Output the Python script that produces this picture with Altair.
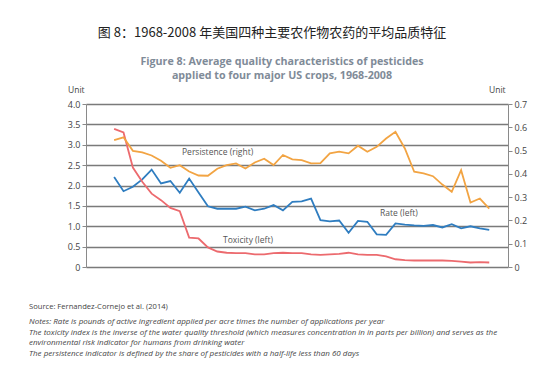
import altair as alt
import pandas as pd

years = list(range(1968, 2009))
rate = [2.21, 1.86, 1.97, 2.15, 2.39, 2.05, 2.11, 1.82, 2.17, 1.83,
        1.49, 1.43, 1.43, 1.43, 1.48, 1.39, 1.43, 1.52, 1.39, 1.60,
        1.61, 1.68, 1.15, 1.12, 1.14, 0.84, 1.13, 1.11, 0.80, 0.79,
        1.07, 1.04, 1.02, 1.01, 1.03, 0.97, 1.05, 0.95, 1.00, 0.95, 0.91]
toxicity = [3.39, 3.30, 2.44, 2.09, 1.80, 1.64, 1.45, 1.37, 0.72, 0.70,
            0.48, 0.38, 0.35, 0.34, 0.34, 0.31, 0.31, 0.34, 0.35, 0.34,
            0.34, 0.31, 0.30, 0.31, 0.32, 0.35, 0.31, 0.30, 0.30, 0.26,
            0.19, 0.17, 0.16, 0.16, 0.16, 0.16, 0.15, 0.13, 0.11, 0.12, 0.11]
persistence = [0.545, 0.557, 0.499, 0.492, 0.479, 0.456, 0.426, 0.437, 0.410, 0.393,
               0.392, 0.422, 0.437, 0.445, 0.423, 0.449, 0.465, 0.438, 0.481, 0.462,
               0.459, 0.445, 0.446, 0.488, 0.495, 0.488, 0.521, 0.495, 0.516, 0.552,
               0.581, 0.509, 0.409, 0.402, 0.390, 0.354, 0.323, 0.416, 0.277, 0.294, 0.251]

left_ticks = [0, 0.5, 1.0, 1.5, 2.0, 2.5, 3.0, 3.5, 4.0]
right_ticks = [0, 0.1, 0.2, 0.3, 0.4, 0.5, 0.6, 0.7]
x_ticks = [1965, 1970, 1975, 1980, 1985, 1990, 1995, 2000, 2005, 2010]

left_df = pd.DataFrame({
    "year": years * 2,
    "value": rate + toxicity,
    "series": ["Rate"] * len(years) + ["Toxicity"] * len(years),
})
right_df = pd.DataFrame({"year": years, "value": persistence})

W, H = 422, 163
FONT = "Open Sans"
AX = "#8a8a8a"

xenc = alt.X("year:Q",
             scale=alt.Scale(domain=[1965, 2010], nice=False, zero=False),
             axis=alt.Axis(values=x_ticks, format="d", title=None, grid=False,
                           labelFont=FONT, labelFontSize=9, labelColor="#444",
                           domainColor=AX, tickColor=AX, tickSize=4, labelPadding=3))

left = alt.Chart(left_df).mark_line(strokeWidth=1.8).encode(
    x=xenc,
    y=alt.Y("value:Q", scale=alt.Scale(domain=[0, 4], nice=False),
            axis=alt.Axis(values=left_ticks, title=None, orient="left",
                          grid=True, gridColor="#7a7a7a", gridWidth=1.5,
                          labelFont=FONT, labelFontSize=9, labelColor="#444",
                          labelExpr="datum.value == 0 ? '0' : format(datum.value, '.1f')",
                          domainColor=AX, tickColor=AX, tickSize=4)),
    color=alt.Color("series:N",
                    scale=alt.Scale(domain=["Rate", "Toxicity"], range=["#2f7dc0", "#ec6a6e"]),
                    legend=None),
)

right = alt.Chart(right_df).mark_line(strokeWidth=1.8, color="#f2a443").encode(
    x=alt.X("year:Q", scale=alt.Scale(domain=[1965, 2010], nice=False, zero=False), axis=None),
    y=alt.Y("value:Q", scale=alt.Scale(domain=[0, 0.7], nice=False),
            axis=alt.Axis(values=right_ticks, title=None, orient="right", grid=False,
                          labelFont=FONT, labelFontSize=9, labelColor="#444",
                          labelExpr="datum.value == 0 ? '0' : format(datum.value, '.1f')",
                          domainColor=AX, tickColor=AX, tickSize=4)),
)

def txt(s, x, y, size=9, color="#555", weight="normal", style="normal", font=FONT, align="left"):
    return alt.Chart(pd.DataFrame({"t": [s]})).mark_text(
        font=font, fontSize=size, color=color, fontWeight=weight, fontStyle=style,
        align=align, baseline="middle",
    ).encode(x=alt.value(x), y=alt.value(y), text="t:N")

ox, oy = 86, 104
NS = 8.0
annotations = [
    txt("图 8：1968-2008 年美国四种主要农作物农药的平均品质特征", 272 - ox, 33 - oy, size=13,
        color="#222", font="Noto Sans CJK SC", align="center"),
    txt("Figure 8: Average quality characteristics of pesticides", 282 - ox, 62 - oy, size=10.7,
        color="#7f8b98", weight="bold", align="center"),
    txt("applied to four major US crops, 1968-2008", 282 - ox, 76 - oy, size=10.7,
        color="#7f8b98", weight="bold", align="center"),
    txt("Unit", 68 - ox, 90 - oy, size=8.5, color="#444"),
    txt("Unit", 489 - ox, 90 - oy, size=8.5, color="#444"),
    txt("Persistence (right)", 182 - ox, 152 - oy, size=8.5, color="#555"),
    txt("Toxicity (left)", 223 - ox, 240 - oy, size=8.5, color="#555"),
    txt("Rate (left)", 380 - ox, 213 - oy, size=8.5, color="#555"),
    txt("Source: Fernandez-Cornejo et al. (2014)", 29 - ox, 307 - oy, size=7.6, color="#444"),
    txt("Notes: Rate is pounds of active ingredient applied per acre times the number of applications per year",
        29 - ox, 322 - oy, size=NS, color="#444", style="italic"),
    txt("The toxicity index is the inverse of the water quality threshold (which measures concentration in in parts per billion) and serves as the",
        29 - ox, 333 - oy, size=NS, color="#444", style="italic"),
    txt("environmental risk indicator for humans from drinking water",
        29 - ox, 343 - oy, size=NS, color="#444", style="italic"),
    txt("The persistence indicator is defined by the share of pesticides with a half-life less than 60 days",
        29 - ox, 354 - oy, size=NS, color="#444", style="italic"),
]

chart = alt.layer(left, right, *annotations).resolve_scale(y="independent").properties(
    width=W, height=H,
    autosize=alt.AutoSizeParams(type="none"),
    padding={"left": ox - 8, "top": oy - 8, "right": 538 - (ox - 8) - W, "bottom": 353 - (oy - 8) - H},
    background="white",
).configure_view(stroke=None)

chart.save("out.html", embed_options={"renderer": "svg", "actions": False})
